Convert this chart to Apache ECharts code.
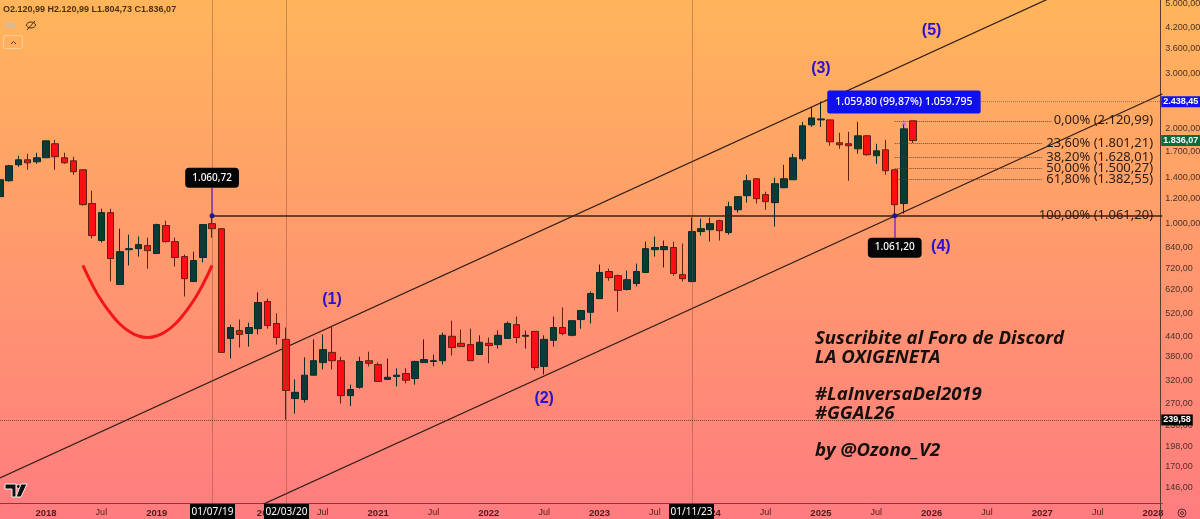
<!DOCTYPE html>
<html><head><meta charset="utf-8">
<style>html,body{margin:0;padding:0;background:#ff9a6e}#c{width:1200px;height:519px}</style>
<script src="https://cdn.jsdelivr.net/npm/echarts@6/dist/echarts.min.js"></script>
</head><body><div id="c"></div>
<script>
// ---- monthly candles, first candle = Aug 2017 ----
const opens=[1220,1370,1539,1596,1573,1620,1794,1620,1584,1484,1160,886,1086,643,829,835,854,806,988,879,788,657,783,1002,966,434,460,450,466,568,484,431,280,278,332,364,392,369,286,304,369,359,322,329,336,324,364,367,369,441,419,415,386,419,415,434,480,441,457,354,428,470,444,498,525,580,707,686,620,648,702,829,829,842,691,657,946,959,1024,939,1109,1229,1390,1238,1168,1302,1380,1608,2059,2135,2135,1807,1794,1729,1901,1644,1716,1484,1160,2120.99];
const closes=[1380,1528,1596,1561,1620,1833,1632,1561,1463,1151,919,1086,777,817,835,860,823,995,879,783,671,766,995,966,392,470,447,470,564,477,437,297,293,332,369,400,369,286,299,367,362,317,327,332,320,367,372,369,444,406,409,369,422,412,444,484,437,444,351,431,470,450,494,532,602,702,676,616,666,707,835,842,848,697,671,946,966,1002,952,1134,1220,1370,1202,1176,1341,1390,1620,2044,2166,2150,1820,1781,1768,1901,1656,1704,1474,1151,2000,1836.07];
const lows=[1193,1361,1517,1484,1550,1620,1484,1550,1432,1143,899,873,657,643,739,788,722,806,873,733,589,657,755,905,392,375,406,409,447,466,415,240,251,272,332,346,346,270,265,301,354,317,322,306,313,310,364,354,359,383,409,369,386,362,403,434,419,403,344,334,409,444,441,466,484,580,661,528,616,634,702,788,728,686,657,657,919,879,886,925,1086,1168,1160,1109,981,1302,1380,1584,2029,2029,1768,1729,1370,1668,1644,1550,1432,1061.2,1078,1804.73];
const highs=[1401,1539,1644,1668,1680,1833,1846,1680,1632,1484,1274,1117,1117,966,925,912,905,1002,1024,905,800,817,995,1060.72,966,480,498,487,607,580,521,470,322,378,431,447,473,380,310,380,394,364,375,349,349,369,431,386,453,494,463,466,444,437,460,491,509,460,457,444,509,544,494,532,611,744,722,691,712,749,879,912,886,879,867,1047,1039,1047,1031,1176,1220,1432,1390,1265,1401,1539,1668,2104,2347,2438.45,2135,1943,1957,2104,1915,1794,1846,1484,2120.99,2120.99];

const yTicks=[5000,4200,3600,3000,2000,1700,1400,1200,1000,840,720,620,520,440,380,320,270,230,198,170,146];
const fibLevels=[2120.99,1801.21,1628.01,1500.27,1382.55,1061.20];
const fibNames=['0,00%','23,60%','38,20%','50,00%','61,80%','100,00%'];
const fibText=['2.120,99','1.801,21','1.628,01','1.500,27','1.382,55','1.061,20'];
const curveIdx=[9,10,11,12,13,14,15,16,17,18,19,20,21,22,23];
const curvePrice=[739,643,572,521,482,457,442,437,442,457,482,521,572,643,739];
const upperChannel=[[0,157],[114,5214]];
const lowerChannel=[[28,127.5],[126,2578]];
const waveLabels=[['(1)',36,576],['(2)',59,280],['(3)',89,3096],['(4)',102,848],['(5)',101,4082]];
const vLines=[23,31,75];
const yMin=130.3,yMax=5116;

// ---- helpers ----
const fmt=v=>{const s=v.toFixed(2).split('.');return s[0].replace(/\B(?=(\d{3})+$)/g,'.')+','+s[1];};
const categories=[];
for(let i=0;i<=126;i++){
  const m=(7+i)%12, y=2017+Math.floor((7+i)/12);
  categories.push(m===0?String(y):m===6?'Jul':'');
}
const tickFont='"Liberation Sans",sans-serif';
const uiFont='"Noto Sans",sans-serif';
const lineSeries=(name,data,width,color,type)=>({type:'line',name,data,showSymbol:false,symbol:'none',z:3,silent:true,
  lineStyle:{width,color,type:type||'solid'},clip:true});
const marks=(name,data,style,extra)=>Object.assign({type:'line',name,data:[],z:3,silent:true,
  markLine:{silent:true,animation:false,symbol:'none',label:{show:false},lineStyle:style,data}},extra||{});
const seg=(x1,y1,x2,y2)=>[{coord:[x1,y1]},{coord:[x2,y2]}];
const callout=(name,x,price,text,bg,pos,extra)=>({type:'scatter',name,symbolSize:0,clip:false,silent:true,z:8,data:[[x,price]],itemStyle:{opacity:1},
  label:Object.assign({show:true,position:pos,distance:0,formatter:text,color:'#fff',backgroundColor:bg,fontFamily:uiFont,fontSize:10,fontWeight:500,
    padding:[5,7],borderRadius:4},extra||{})});
const priceTag=(name,price,bg)=>callout(name,126,price,fmt(price),bg,'right',{padding:[1,2,1,2],borderRadius:0,fontSize:9,fontWeight:'bold',fontFamily:tickFont,offset:[-1,0]});
const textFont='italic bold 18.6px "Open Sans"';
const axisText='#4d1c1c';

const chart=echarts.init(document.getElementById('c'),null,{renderer:'canvas'});
chart.setOption({
  animation:false,
  backgroundColor:new echarts.graphic.LinearGradient(0,0,0,1,[{offset:0,color:'#ffb55b'},{offset:1,color:'#ff7c80'}]),
  grid:{left:-0.1,top:0,width:1162.35,height:503.5,containLabel:false,outerBoundsMode:'none'},
  tooltip:{show:false},
  xAxis:{type:'category',data:categories,boundaryGap:false,
    axisLine:{lineStyle:{color:'#7a3f3f',width:1}},axisTick:{show:false},splitLine:{show:false},
    axisLabel:{interval:0,margin:5,hideOverlap:false,fontFamily:tickFont,fontSize:9,color:axisText,
      formatter:v=>v==='Jul'?'{m|Jul}':(v?'{y|'+v+'}':''),
      rich:{m:{fontFamily:tickFont,fontSize:9,color:axisText},y:{fontFamily:tickFont,fontSize:9.5,fontWeight:'bold',color:axisText}}}},
  yAxis:{type:'log',logBase:10,position:'right',offset:-2,min:yMin,max:yMax,scale:true,
    axisLine:{show:true,lineStyle:{color:'#5a3a30',width:1}},axisTick:{show:false},splitLine:{show:false},minorTick:{show:false},minorSplitLine:{show:false},
    axisLabel:{show:false}},
  series:[
    marks('verticals',vLines.map(x=>({xAxis:x})),{type:'dotted',color:'rgba(120,70,55,0.8)',width:1},{z:1}),
    marks('lowLine',[{yAxis:239.58}],{type:'dotted',color:'rgba(90,50,50,0.8)',width:1},{z:1}),
    marks('highLine',[seg(89,2438.45,126,2438.45)],{type:'dotted',color:'rgba(120,70,60,0.6)',width:1},{z:1}),
    marks('fibLines',fibLevels.slice(0,5).map((p,k)=>seg(97,p,k===0?114:113,p)),{type:'dotted',color:'rgba(90,55,40,0.85)',width:1},{z:1}),
    lineSeries('upperChannel',upperChannel,1.2,'#2f1c14'),
    lineSeries('lowerChannel',lowerChannel,1.2,'#2f1c14'),
    marks('supportLine',[seg(23,1061.2,126,1061.2)],{type:'solid',color:'#3a2210',width:1.6}),
    Object.assign(lineSeries('curve',curveIdx.map((x,k)=>[x,curvePrice[k]]),3,'#f4141a'),{smooth:true}),
    {type:'candlestick',name:'GGAL',z:4,silent:true,barWidth:7,clip:true,
      data:opens.map((o,i)=>[o,closes[i],lows[i],highs[i]]),
      itemStyle:{color:'#0b3b36',borderColor:'#0a2b26',color0:'#ff0d15',borderColor0:'#5e2012',borderWidth:1}},
    marks('stems',[seg(23,1061.2,23,1302),seg(97,1061.2,97,905)],{type:'solid',color:'#7a35b8',width:1.5},{z:5}),
    {type:'line',name:'arrow',data:[],z:5,silent:true,markLine:{silent:true,animation:false,symbol:['none','arrow'],symbolSize:5,label:{show:false},
      lineStyle:{color:'#c77fc0',width:1},data:[seg(98,2015,98,2120.99)]}},
    {type:'scatter',name:'dots',z:6,silent:true,symbolSize:5,itemStyle:{color:'#1d1a90',opacity:1},data:[[23,1061.2],[97,1061.2]]},
    {type:'scatter',name:'fibLabels',symbolSize:0,clip:false,silent:true,z:7,itemStyle:{opacity:1},
      data:fibLevels.map((p,k)=>({value:[125,p],label:{formatter:fibNames[k]+' ('+fibText[k]+')'}})),
      label:{show:true,position:'left',distance:0,color:'#2a1a12',fontFamily:uiFont,fontSize:13}},
    {type:'scatter',name:'waves',symbolSize:0,clip:false,silent:true,z:7,itemStyle:{opacity:1},
      data:waveLabels.map(w=>({value:[w[1],w[2]],label:{formatter:w[0]}})),
      label:{show:true,position:'inside',color:'#2a10d0',fontFamily:'"Liberation Sans",sans-serif',fontWeight:'bold',fontSize:16}},
    {type:'scatter',name:'yTicks',symbolSize:0,clip:false,silent:true,z:6,itemStyle:{opacity:1},
      data:yTicks.map(v=>({value:[126,v],label:{formatter:fmt(v)}})),
      label:{show:true,position:'right',distance:3,color:'#4a3028',fontFamily:tickFont,fontSize:9}},
    callout('c1',23,1302,'1.060,72','#050505','top'),
    callout('c2',97,905,'1.061,20','#050505','bottom'),
    callout('c3',98,2236,'1.059,80 (99,87%) 1.059.795','#1010ee','top',{padding:[6,8],borderRadius:2,fontSize:10.5}),
    priceTag('tagHigh',2438.45,'#1212ee'),
    priceTag('tagLast',1836.07,'#0b6b3d'),
    priceTag('tagLow',239.58,'#050505')
  ],
  graphic:{elements:[
    {type:'line',z:20,shape:{x1:1160.5,y1:503,x2:1160.5,y2:519},style:{stroke:'#5a3a30',lineWidth:1}},
    ...[['01/07/19',190,45],['02/03/20',264,45],['01/11/23',669,45]].flatMap(d=>[
      {type:'rect',z:20,shape:{x:d[1],y:504,width:d[2],height:15},style:{fill:'#060606'}},
      {type:'text',z:21,x:d[1]+d[2]/2,y:512,style:{text:d[0],fill:'#fff',font:'10px '+uiFont,align:'center',verticalAlign:'middle'}}]),
    ...[['Suscribite al Foro de Discord',339],['LA OXIGENETA',358],['#LaInversaDel2019',395],['#GGAL26',414],['by @Ozono_V2',451]].map(t=>
      ({type:'text',z:20,x:815,y:t[1],style:{text:t[0],fill:'#16100e',font:textFont,verticalAlign:'middle'}})),
    {type:'text',z:20,x:3,y:10,style:{text:'O2.120,99 H2.120,99 L1.804,73 C1.836,07',fill:'#4a3216',font:'bold 9px '+tickFont,verticalAlign:'middle'}},
    {type:'rect',z:20,shape:{x:5,y:22,width:11,height:6,r:1},style:{fill:'rgba(200,190,170,0.6)'}},
    {type:'ellipse',z:20,shape:{cx:31,cy:25,rx:4.5,ry:3},style:{fill:'none',stroke:'#4a3216',lineWidth:1}},
    {type:'line',z:20,shape:{x1:27,y1:30,x2:35,y2:21},style:{stroke:'#4a3216',lineWidth:1}},
    {type:'rect',z:20,shape:{x:3.5,y:35.5,width:19,height:13,r:2},style:{fill:'none',stroke:'rgba(255,255,255,0.35)',lineWidth:1}},
    {type:'polyline',z:20,shape:{points:[[11,44],[13.5,41.5],[16,44]]},style:{stroke:'#4a3216',fill:'none',lineWidth:1}},
    {type:'polygon',z:20,shape:{points:[[5,484],[16,484],[16,497],[12,497],[12,489],[5,489]]},style:{fill:'#111',stroke:'#eee',lineWidth:1}},
    {type:'circle',z:20,shape:{cx:18.5,cy:486.5,r:2},style:{fill:'#111',stroke:'#eee',lineWidth:.8}},
    {type:'polygon',z:20,shape:{points:[[21,484],[27,484],[21,497],[16,497]]},style:{fill:'#111',stroke:'#eee',lineWidth:1}},
    {type:'circle',z:20,shape:{cx:1182,cy:513,r:4},style:{fill:'none',stroke:'#5a2a2a',lineWidth:1}},
    {type:'circle',z:20,shape:{cx:1182,cy:513,r:1.5},style:{fill:'none',stroke:'#5a2a2a',lineWidth:1}}
  ]}
});
</script></body></html>
